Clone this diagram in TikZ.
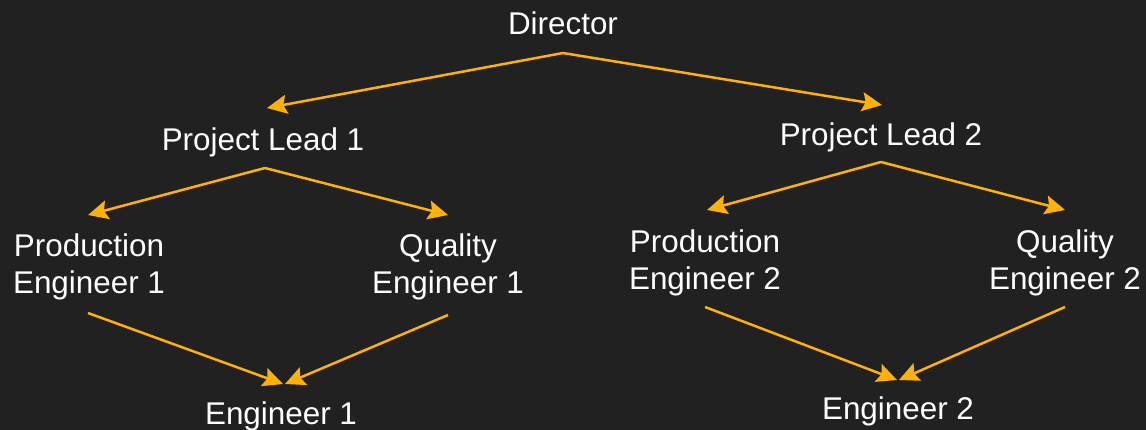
\documentclass[tikz,border=0pt]{standalone}
\usepackage{fontspec}
\setmainfont{Liberation Sans}
\usetikzlibrary{arrows.meta,calc}
\definecolor{bg}{RGB}{33,33,33}
\definecolor{link}{RGB}{255,176,10}
\tikzset{
  lbl/.style={text=white, inner sep=0pt, anchor=base, align=center,
    font=\fontsize{31.4pt}{37pt}\selectfont},
  arr/.style={draw=link, line width=2.5pt,
    -{Stealth[length=20pt, width=19pt, inset=3.5pt]}}
}
\begin{document}
\begin{tikzpicture}[x=1pt, y=-1pt]
  \fill[bg] (0,0) rectangle (1146,430);
  \useasboundingbox (0,0) rectangle (1146,430);

  % people, placed by the baseline of their last line
  \node[lbl] (dir) at (563,35)  {Director};
  \node[lbl] (pl1) at (263,151) {Project Lead 1};
  \node[lbl] (pl2) at (881,146) {Project Lead 2};
  \node[lbl] (pe1) at (89,294)  {Production\\Engineer 1};
  \node[lbl] (qe1) at (448,294) {Quality\\Engineer 1};
  \node[lbl] (pe2) at (705,290) {Production\\Engineer 2};
  \node[lbl] (qe2) at (1065,290) {Quality\\Engineer 2};
  \node[lbl] (en1) at (281,424) {Engineer 1};
  \node[lbl] (en2) at (898,419) {Engineer 2};

  % reporting lines
  \draw[arr] ($(dir.base)+(0,18)$) -- ($(pl1.base)+(4,-43)$);
  \draw[arr] ($(dir.base)+(0,18)$) -- ($(pl2.base)+(1,-41)$);
  \draw[arr] ($(pl1.base)+(2,17)$) -- ($(pe1.base)+(-1,-79)$);
  \draw[arr] ($(pl1.base)+(2,17)$) -- ($(qe1.base)+(0,-79)$);
  \draw[arr] ($(pl2.base)+(0,16)$) -- ($(pe2.base)+(2,-80)$);
  \draw[arr] ($(pl2.base)+(0,16)$) -- ($(qe2.base)+(0,-80)$);
  \draw[arr] ($(pe1.base)+(-1,19)$) -- ($(en1.base)+(2,-40)$);
  \draw[arr] ($(qe1.base)+(0,21)$) -- ($(en1.base)+(4,-40)$);
  \draw[arr] ($(pe2.base)+(0,17)$) -- ($(en2.base)+(-1,-39)$);
  \draw[arr] ($(qe2.base)+(0,17)$) -- ($(en2.base)+(1,-39)$);
\end{tikzpicture}
\end{document}
